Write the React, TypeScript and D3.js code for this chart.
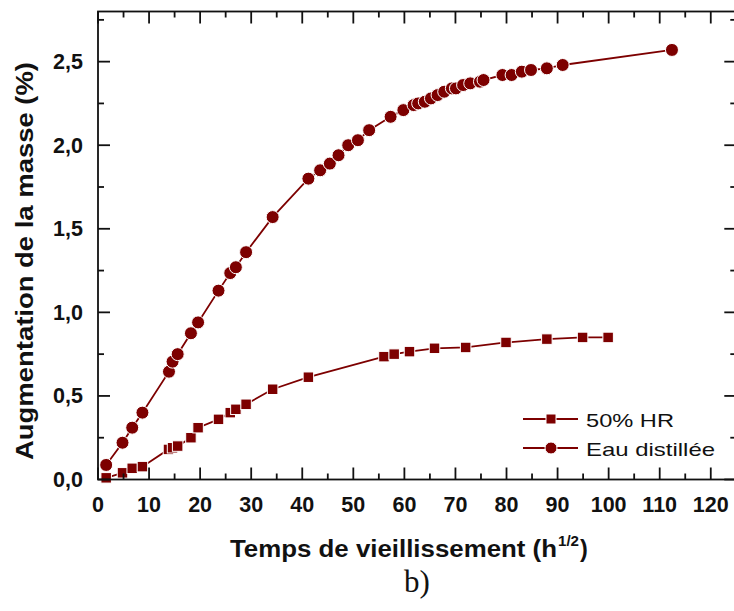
import React from "react";
import * as d3 from "d3";

const hrX = [1.6, 4.8, 6.7, 8.7, 13.8, 14.6, 15.6, 18.2, 19.6, 23.6, 25.9, 27.0, 29.0, 34.2, 41.2, 56.0, 58.0, 61.0, 65.9, 72.0, 79.9, 87.9, 94.9, 99.9];
const hrY = [0.01, 0.04, 0.067, 0.077, 0.18, 0.19, 0.2, 0.25, 0.31, 0.36, 0.4, 0.42, 0.45, 0.54, 0.612, 0.735, 0.75, 0.765, 0.785, 0.79, 0.82, 0.84, 0.85, 0.85];

const eauX = [1.6, 4.8, 6.7, 8.7, 13.9, 14.6, 15.6, 18.2, 19.6, 23.6, 25.9, 27.0, 29.0, 34.2, 41.2, 43.5, 45.4, 47.1, 49.0, 50.9, 53.1, 57.3, 59.8, 61.8, 62.7, 64.0, 65.2, 66.5, 67.8, 69.3, 70.1, 71.5, 72.9, 74.8, 75.5, 79.2, 81.0, 83.0, 84.8, 87.9, 91.0, 112.4];
const eauY = [0.087, 0.22, 0.31, 0.4, 0.645, 0.705, 0.75, 0.875, 0.94, 1.13, 1.235, 1.27, 1.36, 1.57, 1.8, 1.85, 1.89, 1.94, 2.0, 2.03, 2.09, 2.17, 2.21, 2.24, 2.25, 2.26, 2.28, 2.3, 2.32, 2.34, 2.34, 2.36, 2.37, 2.38, 2.39, 2.42, 2.42, 2.44, 2.45, 2.46, 2.48, 2.57];

const xTicks = [0, 10, 20, 30, 40, 50, 60, 70, 80, 90, 100, 110, 120];
const yTicks = [0, 0.5, 1.0, 1.5, 2.0, 2.5];
const seriesNames = ["50% HR", "Eau distillée"];

const COLOR = "#7d0000";
const FONT = "'Liberation Sans', Arial, Helvetica, sans-serif";

export default function App() {
  const W = 734, H = 611;
  const x = d3.scaleLinear().domain([0, 125]).range([98, 736.3]);
  const y = d3.scaleLinear().domain([0, 2.8]).range([479.5, 11.5]);
  const [x0, x1] = x.range();
  const [y0, y1] = y.range();

  const line = d3.line<[number, number]>().x(d => x(d[0])).y(d => y(d[1]));
  const hr: [number, number][] = hrX.map((v, i) => [v, hrY[i]]);
  const eau: [number, number][] = eauX.map((v, i) => [v, eauY[i]]);

  const xMinor = d3.range(5, 125, 10);
  const yMinor = d3.range(0.25, 2.8, 0.5);
  const fmt = (v: number) => v.toFixed(1).replace(".", ",");

  const sq = 10.5;
  const r = 6.5;

  return (
    <svg width={W} height={H} style={{ position: "absolute", left: 0, top: 0, background: "#fff" }}>
      <rect x={0} y={0} width={W} height={H} fill="#fff" />
      <path d={line(eau) || ""} fill="none" stroke={COLOR} strokeWidth={1.8} />
      <path d={line(hr) || ""} fill="none" stroke={COLOR} strokeWidth={1.8} />
      {eau.map((d, i) => (
        <circle key={"c" + i} cx={x(d[0])} cy={y(d[1])} r={r} fill={COLOR} stroke="#fff" strokeWidth={1} />
      ))}
      {hr.map((d, i) => (
        <rect key={"s" + i} x={x(d[0]) - sq / 2} y={y(d[1]) - sq / 2} width={sq} height={sq} fill={COLOR} stroke="#fff" strokeWidth={1} />
      ))}

      <rect x={x0} y={y1} width={x1 - x0} height={y0 - y1} fill="none" stroke="#111" strokeWidth={1.8} />
      {xTicks.map(t => (
        <g key={"xt" + t}>
          <line x1={x(t)} x2={x(t)} y1={y0} y2={y0 - 12} stroke="#111" strokeWidth={1.8} />
          <line x1={x(t)} x2={x(t)} y1={y1} y2={y1 + 12} stroke="#111" strokeWidth={1.8} />
          <text x={x(t)} y={512} textAnchor="middle" fontFamily={FONT} fontWeight="bold" fontSize={21.5} fill="#111">{t}</text>
        </g>
      ))}
      {xMinor.map(t => (
        <g key={"xm" + t}>
          <line x1={x(t)} x2={x(t)} y1={y0} y2={y0 - 6} stroke="#111" strokeWidth={1.8} />
          <line x1={x(t)} x2={x(t)} y1={y1} y2={y1 + 6} stroke="#111" strokeWidth={1.8} />
        </g>
      ))}
      {yTicks.map(t => (
        <g key={"yt" + t}>
          <line x1={x0} x2={x0 + 12} y1={y(t)} y2={y(t)} stroke="#111" strokeWidth={1.8} />
          <line x1={x1} x2={x1 - 12} y1={y(t)} y2={y(t)} stroke="#111" strokeWidth={1.8} />
          <text x={83} y={y(t) + 7.5} textAnchor="end" fontFamily={FONT} fontWeight="bold" fontSize={21.5} fill="#111">{fmt(t)}</text>
        </g>
      ))}
      {yMinor.map(t => (
        <g key={"ym" + t}>
          <line x1={x0} x2={x0 + 6} y1={y(t)} y2={y(t)} stroke="#111" strokeWidth={1.8} />
          <line x1={x1} x2={x1 - 6} y1={y(t)} y2={y(t)} stroke="#111" strokeWidth={1.8} />
        </g>
      ))}

      {/* legend */}
      <line x1={523} x2={578} y1={419} y2={419} stroke={COLOR} strokeWidth={1.8} />
      <rect x={551 - 5} y={419 - 5} width={10} height={10} fill={COLOR} stroke="#fff" strokeWidth={1} />
      <text x={586} y={426.5} textLength={88} lengthAdjust="spacingAndGlyphs" fontFamily={FONT} fontSize={19} fill="#111">{seriesNames[0]}</text>
      <line x1={523} x2={578} y1={448} y2={448} stroke={COLOR} strokeWidth={1.8} />
      <circle cx={551} cy={448} r={6} fill={COLOR} stroke="#fff" strokeWidth={1} />
      <text x={586} y={455.5} textLength={129} lengthAdjust="spacingAndGlyphs" fontFamily={FONT} fontSize={19} fill="#111">{seriesNames[1]}</text>

      {/* axis titles */}
      <text x={230} y={557} textLength={327} lengthAdjust="spacingAndGlyphs" fontFamily={FONT} fontWeight="bold" fontSize={23.5} fill="#111">
        Temps de vieillissement (h
      </text>
      <text x={558} y={546} textLength={21} lengthAdjust="spacingAndGlyphs" fontFamily={FONT} fontWeight="bold" fontSize={14} fill="#111">1/2</text>
      <text x={580} y={557} fontFamily={FONT} fontWeight="bold" fontSize={23.5} fill="#111">)</text>
      <text transform="translate(33,261) rotate(-90)" textAnchor="middle" textLength={398} lengthAdjust="spacingAndGlyphs" fontFamily={FONT} fontWeight="bold" fontSize={23.5} fill="#111">
        Augmentation de la masse (%)
      </text>
      <text x={417} y={592} textAnchor="middle" fontFamily="'Liberation Serif', 'Times New Roman', serif" fontSize={31} fill="#111">b)</text>
    </svg>
  );
}
